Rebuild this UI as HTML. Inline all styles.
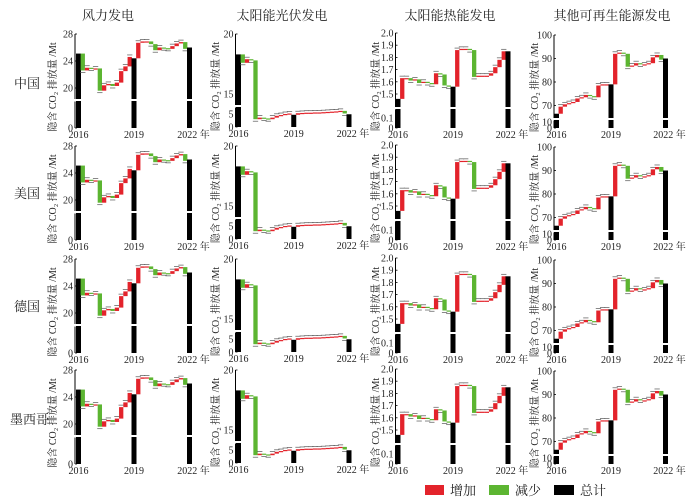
<!DOCTYPE html>
<html><head><meta charset="utf-8">
<style>
html,body{margin:0;padding:0;background:#fff;width:700px;height:502px;overflow:hidden}
svg{display:block}
text{font-family:"Liberation Serif","Noto Serif CJK SC","Noto Sans CJK SC",serif;fill:#222}
</style></head>
<body>
<svg id="s" width="700" height="502" viewBox="0 0 700 502" xmlns="http://www.w3.org/2000/svg">
<g font-size="13">
<text x="108" y="20" text-anchor="middle">风力发电</text>
<text x="282" y="20" text-anchor="middle">太阳能光伏发电</text>
<text x="450" y="20" text-anchor="middle">太阳能热能发电</text>
<text x="612" y="20" text-anchor="middle">其他可再生能源发电</text>
<text x="14" y="88">中国</text>
<text x="14" y="198">美国</text>
<text x="14" y="311">德国</text>
<text x="10" y="424">墨西哥</text>
</g>
<g font-size="13">
<rect x="425" y="485" width="19" height="10" fill="#e3232b"/><text x="450" y="495">增加</text>
<rect x="489" y="485" width="20" height="10" fill="#5cb531"/><text x="515" y="495">减少</text>
<rect x="554" y="485" width="20" height="10" fill="#000"/><text x="580" y="495">总计</text>
</g>
<g id="g"></g>
</svg>
<script>
var NS="http://www.w3.org/2000/svg",G=document.getElementById("g");
function el(t,a,txt){var e=document.createElementNS(NS,t);for(var k in a)e.setAttribute(k,a[k]);if(txt!==undefined)e.textContent=txt;G.appendChild(e);return e;}
var cols=[
 {ax:75,x0:78.5,x1:189.5,lab:55,top:34,bot:128,brk:100,
  map:function(v){return v>=18?34+(28-v)*6.75:128-v*1.6;},
  ticks:[[28,"28"],[24,"24"],[20,"20"],[0,"0"]],
  d:[25.1,22.6,23.0,22.9,22.9,19.6,20.4,20.6,20.3,20.8,22.5,23.2,24.6,24.4,26.7,26.9,26.9,26.5,25.6,26.0,25.9,25.8,26.2,26.6,26.8,25.8,26.0]},
 {ax:235.5,x0:238.5,x1:349,lab:218,top:34,bot:127,brk:106,
  map:function(v){return v>=14?34+(20-v)*12:127-v*2.6;},
  ticks:[[20,"20"],[15,"15"],[5,"5"],[0,"0"]],
  d:[18.3,17.6,17.9,17.8,3.0,3.6,3.3,3.0,3.6,4.3,4.6,5.0,5.2,4.7,5.3,5.4,5.5,5.5,5.6,5.6,5.7,5.8,5.9,6.0,6.2,5.2,4.9]},
 {ax:395.5,x0:398,x1:508,lab:378,top:33,bot:128,brk:108,
  map:function(v){return v>=1.38?33+(2.0-v)*122:128-v*100;},
  ticks:[[2.0,"2.0"],[1.9,"1.9"],[1.8,"1.8"],[1.7,"1.7"],[1.6,"1.6"],[1.5,"1.5"],[0.1,"0.1"],[0,"0"]],
  d:[1.46,1.63,1.63,1.61,1.62,1.59,1.60,1.59,1.58,1.67,1.66,1.57,1.56,1.56,1.86,1.87,1.87,1.86,1.64,1.65,1.65,1.65,1.67,1.72,1.78,1.85,1.85]},
 {ax:554,x0:556.5,x1:665.5,lab:537,top:35,bot:128,brk:119,
  map:function(v){return v>=64?35+(100-v)*2.35:128-v*0.6;},
  ticks:[[100,"100"],[90,"90"],[80,"80"],[70,"70"],[10,"10"],[0,"0"]],
  d:[66.5,69.5,70.5,71,71.5,73,73.5,74.5,74,73.5,78.5,79,79,79,92,92.5,92,86.5,87,88,87.5,87.5,88,90.5,91.5,89.5,90]}
];
var rows=[0,112,225,336];
var W=4.3,WT=5;
rows.forEach(function(dy,ri){
 cols.forEach(function(c,ci){
  var st=(c.x1-c.x0)/26;
  el("line",{x1:c.ax,y1:c.top+dy,x2:c.ax,y2:c.bot+dy,stroke:"#000","stroke-width":1});
  el("rect",{x:c.ax-2,y:c.brk+dy-1,width:4,height:2.5,fill:"#fff"});
  c.ticks.forEach(function(t){var y=c.map(t[0])+dy;
   el("line",{x1:c.ax,y1:y,x2:c.ax+2,y2:y,stroke:"#000","stroke-width":0.8});
   el("text",{x:c.ax-2,y:y+3.5,"font-size":10,"text-anchor":"end"},t[1]);});
  var cy=(c.top+c.bot)/2+dy+6;
  el("text",{x:0,y:0,"font-size":10,"text-anchor":"middle",transform:"translate("+(c.lab+1)+","+cy+") rotate(-90)"},"隐含 CO₂ 排放量 /Mt");
  var yl=c.bot+dy+10;
  el("text",{x:c.x0,y:yl,"font-size":10,"text-anchor":"middle"},"2016");
  el("text",{x:c.x0+13*st,y:yl,"font-size":10,"text-anchor":"middle"},"2019");
  el("text",{x:c.x1+4,y:yl,"font-size":10,"text-anchor":"middle"},"2022 年");
  var d=c.d;
  for(var i=0;i<27;i++){
   var xc=c.x0+i*st;
   if(i%13==0){
    var x=xc-WT/2;
    var yt=c.map(d[i])+dy,yb=c.bot+dy;
    el("rect",{x:x,y:yt,width:WT,height:yb-yt,fill:"#000"});
    el("rect",{x:x-0.5,y:c.brk+dy-1,width:WT+1,height:2,fill:"#fff"});
   } else {
    var x=xc-W/2;
    var p=d[i-1],v=d[i];
    var y1=c.map(Math.max(p,v))+dy,y2=c.map(Math.min(p,v))+dy;
    var h=Math.max(y2-y1,1.2);
    el("rect",{x:x,y:y1,width:W,height:h,fill:v>=p?"#e3232b":"#5cb531"});
    var ly=(v>=p?y1-2:y2+2);
    el("line",{x1:x-0.5,y1:ly,x2:x+W+0.5,y2:ly,stroke:"#555","stroke-width":0.7});
   }
  }
 });
});
</script>
</body></html>
